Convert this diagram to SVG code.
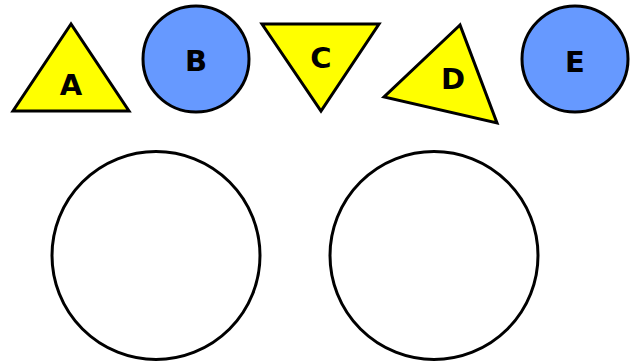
<svg xmlns="http://www.w3.org/2000/svg" width="636" height="363" viewBox="0 0 636 363">
<style>
.tri{fill:#ffff00;stroke:#000;stroke-width:3;stroke-linejoin:miter}
.blue{fill:#6699ff;stroke:#000;stroke-width:3}
.big{fill:#fff;stroke:#000;stroke-width:3}
.lbl{font-family:"DejaVu Sans","Liberation Sans",sans-serif;font-weight:bold;font-size:29px;text-anchor:middle;fill:#000}
</style>
<rect width="636" height="363" fill="#fff"/>
<g id="A"><polygon class="tri" points="71,24 13,111 129,111"/><text class="lbl" x="71" y="95">A</text></g>
<g id="B"><circle class="blue" cx="196" cy="59" r="53"/><text class="lbl" x="196" y="71">B</text></g>
<g id="C"><polygon class="tri" points="262,24 379,24 321,111"/><text class="lbl" x="321" y="68">C</text></g>
<g id="D"><polygon class="tri" points="460,25 384,97 497,123"/><text class="lbl" x="453" y="89">D</text></g>
<g id="E"><circle class="blue" cx="575" cy="59" r="53"/><text class="lbl" x="575" y="72">E</text></g>
<g id="F"><circle class="big" cx="156" cy="255.5" r="104"/></g>
<g id="G"><circle class="big" cx="434" cy="255.5" r="104"/></g>
<g id="connectors"></g>
</svg>
